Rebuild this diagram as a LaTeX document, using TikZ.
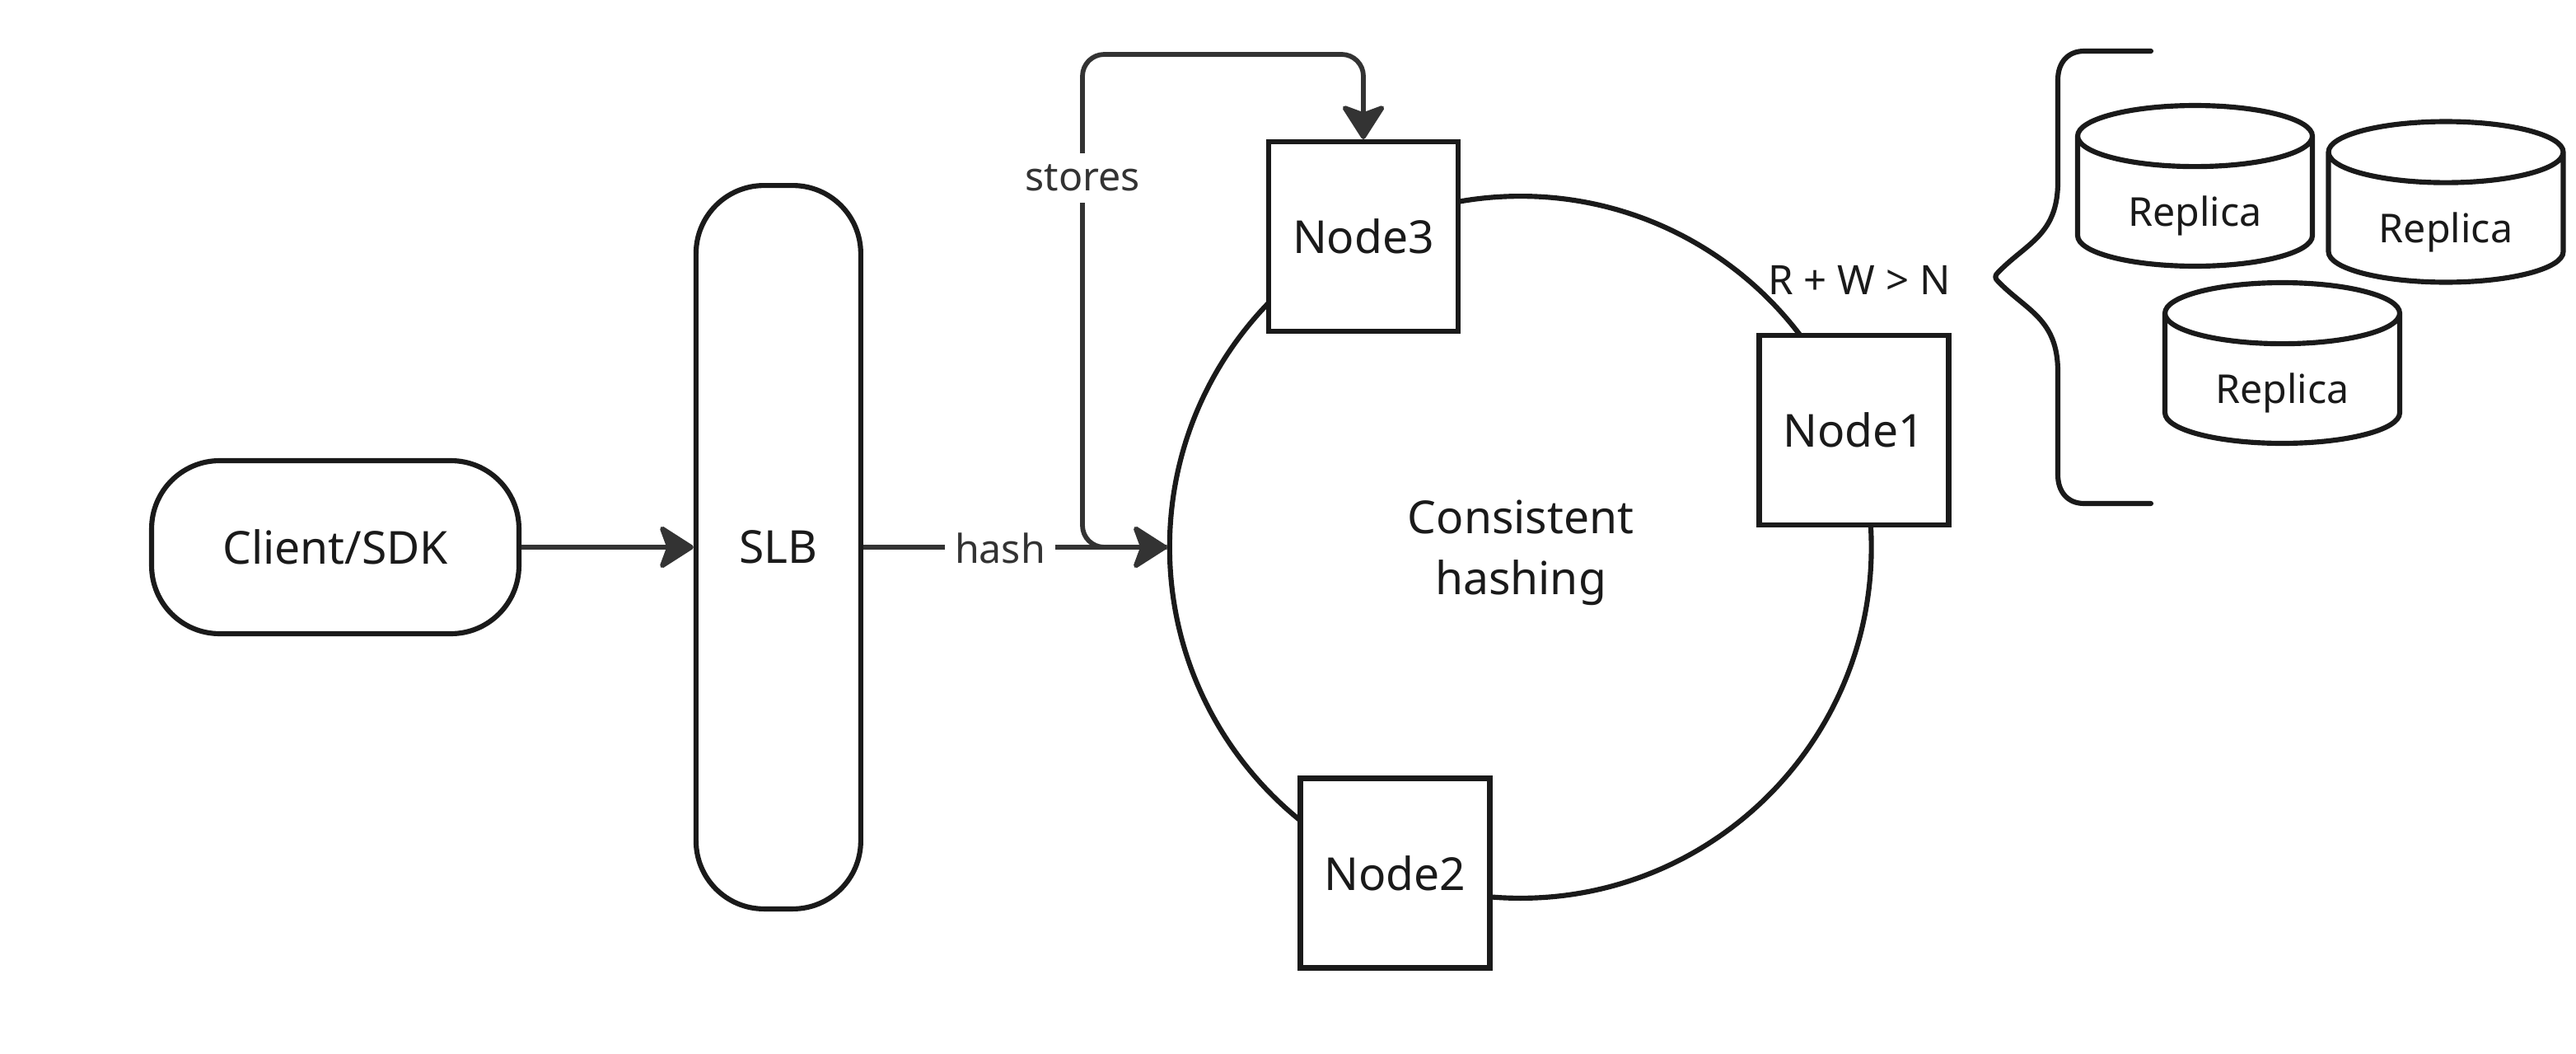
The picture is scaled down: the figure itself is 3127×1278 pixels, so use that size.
\documentclass[tikz,border=0pt]{standalone}
\usepackage{fontspec}
\setmainfont{Noto Sans}
\usetikzlibrary{arrows.meta,shapes.geometric}
\definecolor{inkdark}{HTML}{1A1A1A}
\definecolor{flowgray}{HTML}{333333}

\begin{document}
\begin{tikzpicture}[x=0.02cm,y=-0.02cm,>={Stealth[length=26pt,width=33pt,inset=6pt,round]},node distance=10.76cm,
    main node/.style={draw=inkdark,line width=3.5pt,fill=white,text=inkdark,align=center,inner sep=0pt,font=\fontsize{31.4}{42}\selectfont},
    pill node/.style={main node,rounded corners=1.65cm},
    store node/.style={main node,rectangle,minimum size=4.6cm},
    replica node/.style={main node,cylinder,anchor=shape center,shape border rotate=90,aspect=0.4,minimum width=5.7cm,minimum height=3.9cm},
    replica label/.style={text=inkdark,inner sep=0pt,font=\fontsize{27.5}{32}\selectfont},
    flow/.style={draw=flowgray,line width=3.3pt,->},
    flow label/.style={fill=white,text=flowgray,inner sep=0pt,minimum height=1.22cm,font=\fontsize{27.5}{32}\selectfont}]
    \useasboundingbox (0,0) rectangle (3127,1278);

    \node[pill node,minimum width=8.92cm,minimum height=4.2cm] (client) at (407,664) {Client/SDK};
    \node[pill node,minimum width=4cm,minimum height=17.56cm] (slb) [right of=client] {SLB};
    \node[main node,circle,minimum size=17.04cm] (ring) [right of=slb,node distance=18.02cm] {};
    \node[text=inkdark,align=center,font=\fontsize{31.4}{42}\selectfont] (ringText) at (1846,671) {Consistent\\hashing};

    \node[store node] (node1) at (2250.5,522) {Node1};
    \node[store node] (node2) at (1693.5,1059.5) {Node2};
    \node[store node] (node3) at (1655,287) {Node3};

    \node[replica node] (replica1) at (2664.5,225.5) {\phantom{Replica}};
    \node[replica node] (replica2) at (2969,245) {\phantom{Replica}};
    \node[replica node] (replica3) at (2770.5,440.5) {\phantom{Replica}};
    \node[replica label] (replicaText1) at (2664.5,262) {Replica};
    \node[replica label] (replicaText2) at (2969,281.5) {Replica};
    \node[replica label] (replicaText3) at (2770.5,477) {Replica};

    \coordinate (bend) at (1314,66);
    \path[flow] (client) -- (slb);
    \path[flow] (slb) -- (ring);
    \path[flow,rounded corners=15pt] (ring.west) -| (bend) -| (node3.north);
    \node[flow label,minimum width=2.68cm] (hash) at (1214,665) {hash};
    \node[flow label,minimum width=2.72cm] (stores) at (1314,216) {stores};

    \node[text=inkdark,font=\fontsize{28}{32}\selectfont] (quorum) at (2257,340) {R + W > N};

    \coordinate (braceTop) at (2611,62);
    \coordinate (braceBottom) at (2611,611);
    \draw[inkdark,line width=3.5pt,line cap=round,line join=round] (braceTop) -- (2530,62)
        .. controls (2510,62) and (2498,76) .. (2498,97) -- (2498,221)
        .. controls (2498,285) and (2460,295) .. (2426,330)
        .. controls (2421,335) and (2421,337) .. (2426,342)
        .. controls (2460,377) and (2498,387) .. (2498,451) -- (2498,576)
        .. controls (2498,597) and (2510,611) .. (2530,611) -- (braceBottom);
\end{tikzpicture}
\end{document}
